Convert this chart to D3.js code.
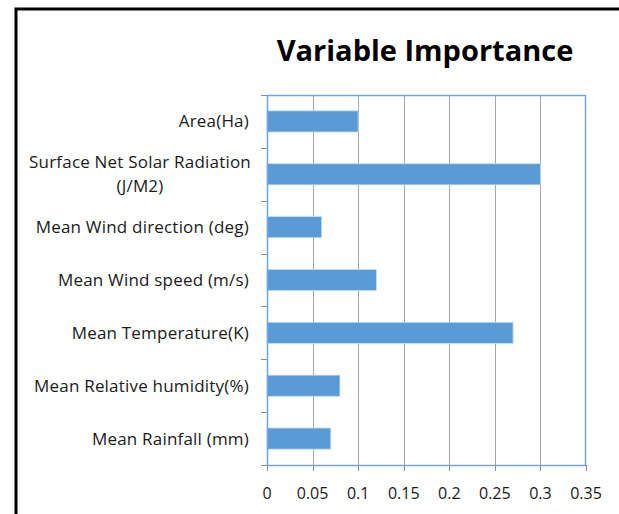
<!DOCTYPE html>
<html>
<head>
<meta charset="utf-8">
<script src="https://cdn.jsdelivr.net/npm/d3@7"></script>
<style>
  body { margin: 0; background: #fff; }
  svg { display: block; font-family: "Open Sans", Lato, sans-serif; }
</style>
</head>
<body>
<svg width="619" height="514"></svg>
<script>
// chart data, top to bottom as drawn
const variables = ['Area(Ha)', 'Surface Net Solar Radiation (J/M2)', 'Mean Wind direction (deg)',
  'Mean Wind speed (m/s)', 'Mean Temperature(K)', 'Mean Relative humidity(%)', 'Mean Rainfall (mm)'];
const importance = [0.1, 0.3, 0.06, 0.12, 0.27, 0.08, 0.07];
const xTicks = [0, 0.05, 0.1, 0.15, 0.2, 0.25, 0.3, 0.35];
// labels that wrap onto two lines
const wrapped = {'Surface Net Solar Radiation (J/M2)': ['Surface Net Solar Radiation', '(J/M2)']};

const svg = d3.select('svg');
const plotL = 267, plotR = 586, plotT = 95, plotB = 465;

// outer frame (runs off the right and bottom of the picture)
svg.append('rect')
   .attr('x', 16).attr('y', 9)
   .attr('width', 700).attr('height', 600)
   .attr('fill', 'none').attr('stroke', '#000').attr('stroke-width', 3);

svg.append('text')
   .attr('x', 425).attr('y', 61)
   .attr('text-anchor', 'middle')
   .style('font-size', '29px').style('font-weight', 'bold')
   .text('Variable Importance');

const x = d3.scaleLinear().domain([0, 0.35]).range([plotL, plotR]);
const y = d3.scaleBand().domain(variables).range([plotT, plotB]).padding(0);

// vertical gridlines
svg.append('g')
   .selectAll('line')
   .data(xTicks.slice(1, -1))
   .enter()
   .append('line')
   .attr('x1', d => Math.round(x(d)) + 0.5).attr('x2', d => Math.round(x(d)) + 0.5)
   .attr('y1', plotT).attr('y2', plotB)
   .attr('stroke', '#a6a6a6').attr('stroke-width', 1);

// bars
const barH = y.bandwidth() * 0.4;
svg.append('g')
   .selectAll('rect')
   .data(variables)
   .enter()
   .append('rect')
   .attr('x', plotL)
   .attr('y', d => y(d) + (y.bandwidth() - barH) / 2)
   .attr('width', (d, i) => x(importance[i]) - plotL)
   .attr('height', barH)
   .attr('fill', '#5b9bd5')
   .attr('stroke', '#c9ddf0').attr('stroke-width', 0.8);

// plot area border
svg.append('rect')
   .attr('x', plotL + 0.5).attr('y', plotT + 0.5)
   .attr('width', plotR - plotL - 1).attr('height', plotB - plotT)
   .attr('fill', 'none').attr('stroke', '#6fa7dc').attr('stroke-width', 1.5);

// x axis ticks and labels
const xAxis = svg.append('g').attr('transform', 'translate(0,' + plotB + ')');
xAxis.selectAll('line')
     .data(xTicks)
     .enter()
     .append('line')
     .attr('x1', d => Math.round(x(d)) + 0.5).attr('x2', d => Math.round(x(d)) + 0.5)
     .attr('y1', 0).attr('y2', 6)
     .attr('stroke', '#8c8c8c');
xAxis.selectAll('text')
     .data(xTicks)
     .enter()
     .append('text')
     .attr('x', d => x(d)).attr('y', 34)
     .attr('text-anchor', 'middle')
     .style('font-size', '16px').attr('fill', '#1a1a1a')
     .text(d => d);

// y axis ticks at band edges
const bounds = variables.map(d => y(d)).concat([plotB]);
svg.append('g')
   .selectAll('line')
   .data(bounds)
   .enter()
   .append('line')
   .attr('x1', plotL - 6).attr('x2', plotL)
   .attr('y1', d => Math.round(d) + 0.5).attr('y2', d => Math.round(d) + 0.5)
   .attr('stroke', '#8c8c8c');

// category labels
const labels = svg.append('g')
   .selectAll('text')
   .data(variables)
   .enter()
   .append('text')
   .style('font-size', '17px').style('letter-spacing', '0.2px').attr('fill', '#1a1a1a')
   .attr('y', d => y(d) + y.bandwidth() / 2 + 6);
labels.each(function(d) {
  const t = d3.select(this);
  if (wrapped[d]) {
    const lines = wrapped[d];
    const cx = 140;
    t.attr('text-anchor', 'middle');
    lines.forEach((s, i) => {
      t.append('tspan')
       .attr('x', cx)
       .attr('dy', i == 0 ? -12 : 24)
       .text(s);
    });
  } else {
    t.attr('x', 249).attr('text-anchor', 'end').text(d);
  }
});
</script>
</body>
</html>
